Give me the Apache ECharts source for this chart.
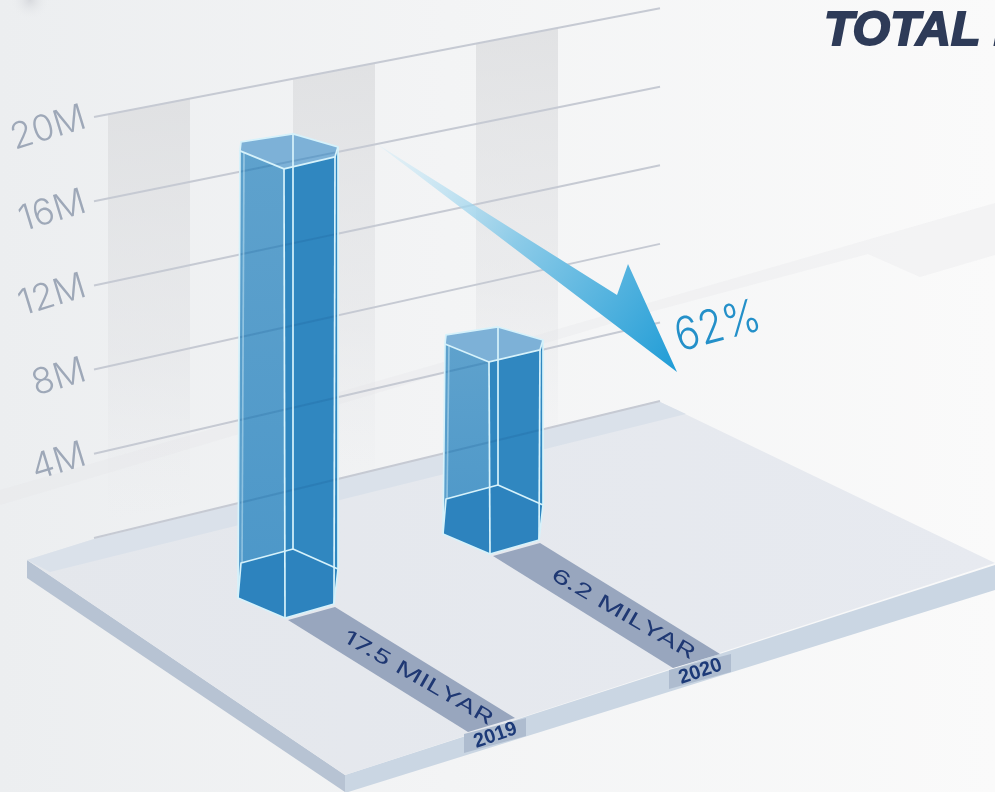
<!DOCTYPE html>
<html>
<head>
<meta charset="utf-8">
<style>html,body{margin:0;padding:0;overflow:hidden;background:#f5f6f7}#chart{width:995px;height:792px}</style>
<script src="https://cdn.jsdelivr.net/npm/echarts@6/dist/echarts.min.js"></script>
</head>
<body>
<div id="chart"></div>
<script>
// Yearly totals, in billions
const categories = ['2019', '2020'];
const totals = [17.5, 6.2];
const valueUnit = 'MILYAR';
// Wall scale
const wallTicks = [0, 4, 8, 12, 16, 20];
const changeLabel = '62%';
const titleText = 'TOTAL M';

const pts = (ox, oy, list) => list.map(p => [ox + p[0], oy + p[1]]);
const poly = (points, fill, extra) => ({type: 'polygon', shape: {points}, style: Object.assign({fill}, extra || {})});
const edge = (points, closed, opacity) => ({
  type: closed ? 'polygon' : 'polyline',
  shape: {points},
  style: {fill: 'none', stroke: '#d6f2fb', lineWidth: 1.7, lineJoin: 'round', opacity: opacity || 1}
});
const rad = d => d * Math.PI / 180;

// Wall lines converge slightly towards the rear corner of the floor
const wall = {left: 94, right: 660, zeroLeft: 538, stepLeft: 21.05, zeroRight: 401, stepRight: 19.64};
const wallY = (tick, x) => {
  const t = (x - wall.left) / (wall.right - wall.left);
  const l = wall.zeroLeft - tick * wall.stepLeft;
  const r = wall.zeroRight - tick * wall.stepRight;
  return l + (r - l) * t;
};

// Hexagon outlines, relative to the rear corner of each prism
const topHex = {tl: [-52, 8], b: [0, 0], r: [45, 13], fr: [42, 23], f: [-9, 35], l: [-53, 17]};
const baseHex = {l: [-52, 14], b: [0, 0], r: [45, 20], fr: [41, 55], f: [-8, 69], bl: [-55, 49]};
const floorSlope = -0.312;
const firstRearX = 293;

function renderPrism(params, api) {
  const i = api.value(0);
  const v = api.value(1);
  const x = api.coord([i, v])[0];
  const shift = (x - firstRearX) * floorSlope;
  const y0 = api.coord([i, -0.75])[1] + shift;
  const y1 = api.coord([i, v])[1] + shift;
  const T = {}, B = {};
  Object.keys(topHex).forEach(k => { T[k] = [x + topHex[k][0], y1 + topHex[k][1]]; });
  Object.keys(baseHex).forEach(k => { B[k] = [x + baseHex[k][0], y0 + baseHex[k][1]]; });
  const strip = pts(x, y0, [[-5, 71], [42, 58], [222, 169], [175, 183]]);
  const tag = pts(x, y0, [[171, 185], [233, 169], [233, 187], [171, 204]]);
  const textPos = [x + 125, y0 + 129];
  const yearPos = [x + 202.5, y0 + 186.5];
  // Wall lines seen through the glass
  const through = wallTicks
    .filter(t => wallY(t, x - 53) > y1 + 12)
    .map(t => ({
      type: 'line',
      shape: {x1: x - 53, y1: wallY(t, x - 53), x2: x + 45, y2: wallY(t, x + 45)},
      style: {stroke: 'rgba(24,84,140,0.18)', lineWidth: 2}
    }));
  return {
    type: 'group',
    children: [
      poly(strip, '#98a6be'),
      poly(tag, '#aebccf'),
      {type: 'text', x: textPos[0], y: textPos[1], rotation: rad(-30), scaleX: 1.5, scaleY: 0.95,
        style: {text: api.value(1) + ' ' + valueUnit, fill: '#1f3873', font: '400 20px Inter', align: 'center', verticalAlign: 'middle'}},
      {type: 'text', x: yearPos[0], y: yearPos[1], rotation: rad(19),
        style: {text: categories[i], fill: '#1c3a78', font: 'bold 20px "Liberation Sans Narrow", "Liberation Sans"', align: 'center', verticalAlign: 'middle'}},
      poly([T.l, T.tl, T.b, T.r, B.r, B.b, B.l], '#3f8fc4', {opacity: 0.86}),
      poly([T.l, T.f, B.f, B.bl], {
        type: 'linear', x: 0, y: 0, x2: 0, y2: 1,
        colorStops: [{offset: 0, color: '#5fa2cd'}, {offset: 1, color: '#4a96c8'}]
      }, {opacity: 0.92}),
      poly([T.f, T.fr, T.r, B.r, B.fr, B.f], '#2f86bf', {opacity: 0.96}),
      poly([T.tl, T.b, T.r, T.fr, T.f, T.l], '#7fb2d7', {opacity: 0.96}),
      poly([B.l, B.b, B.r, B.fr, B.f, B.bl], '#2d83be')
    ].concat(through, [
      edge([T.l, T.tl, T.b, T.r, T.fr, T.f], true),
      edge([T.l, B.bl, B.f, B.fr, B.r, T.r]),
      edge([T.f, B.f]),
      edge([T.b, B.b]),
      edge([T.fr, B.fr]),
      edge([[T.l[0] + 4, T.l[1] + 2], [B.l[0] + 1, B.l[1]]], false, 0.45),
      edge([B.bl, B.l, B.b, B.r])
    ])
  };
}

function renderWallLine(params, api) {
  const v = api.value(0);
  const left = api.coord([0, v]);
  const end = api.coord([1, v]);
  return {
    type: 'line',
    shape: {x1: left[0], y1: left[1], x2: end[0], y2: wallY(v, end[0])},
    style: {stroke: '#c6cad3', lineWidth: 2}
  };
}

const band = (x1, x2, y1, y2, bottom) => ({
  type: 'polygon', z: 1, silent: true,
  shape: {points: [[x1, y1], [x2, y2], [x2, bottom - 16], [x1, bottom]]},
  style: {fill: {type: 'linear', x: 0, y: 0, x2: 0, y2: 1, colorStops: [
    {offset: 0, color: 'rgba(218,219,221,0.72)'},
    {offset: 0.6, color: 'rgba(222,223,226,0.4)'},
    {offset: 1, color: 'rgba(230,231,234,0)'}
  ]}}
});

const backdrop = [
  // Soft smudge in the corner
  {type: 'rect', z: 0, silent: true, shape: {x: 0, y: 0, width: 120, height: 40},
    style: {fill: {type: 'radial', x: 0.25, y: 0, r: 0.5, colorStops: [
      {offset: 0, color: 'rgba(208,210,215,0.75)'}, {offset: 1, color: 'rgba(236,238,240,0)'}
    ]}}},
  // Faint wall reflection running across the page
  {type: 'polygon', z: 0, silent: true,
    shape: {points: [[0, 490], [995, 203], [995, 255], [920, 277], [868, 254], [650, 312], [0, 505]]},
    style: {fill: 'rgba(228,229,231,0.3)'}},
  band(108, 190, 114, 98, 520),
  band(293, 375, 79, 63, 500),
  band(476, 558, 44, 28, 470),
  // Floor slab
  {type: 'polygon', z: 2, silent: true, shape: {points: [[27, 560], [345, 775], [345, 792], [27, 578]]},
    style: {fill: '#b7c3d3'}},
  {type: 'polygon', z: 2, silent: true, shape: {points: [[345, 775], [995, 565], [995, 590], [345, 793]]},
    style: {fill: '#cad6e3'}},
  {type: 'polygon', z: 2, silent: true, shape: {points: [[27, 560], [94, 539], [658, 401], [995, 563], [345, 775]]},
    style: {fill: {type: 'linear', x: 0, y: 0, x2: 1, y2: 0, colorStops: [
      {offset: 0, color: '#e4e7ec'}, {offset: 1, color: '#e7eaf0'}
    ]}}},
  {type: 'polygon', z: 3, silent: true, shape: {points: [[27, 560], [94, 539], [658, 401], [686, 414], [50, 572]]},
    style: {fill: '#dae1ea'}},
  // Arrow from the first bar's top towards the second
  {type: 'polygon', z: 12, silent: true,
    shape: {points: [[377, 144], [617, 295], [628, 264], [677, 372]]},
    style: {fill: {type: 'linear', x: 0, y: 0, x2: 1, y2: 1, colorStops: [
      {offset: 0, color: 'rgba(208,236,248,0.35)'},
      {offset: 0.45, color: '#8ccbe8'},
      {offset: 1, color: '#1f9cd6'}
    ]}}},
  {type: 'text', z: 12, silent: true, x: 718, y: 327, rotation: rad(15), scaleX: 0.88,
    style: {text: changeLabel, fill: '#2490c9', font: '300 46px Inter', align: 'center', verticalAlign: 'middle'}},
  {type: 'text', z: 12, silent: true, x: 824, y: 31, scaleX: 0.985,
    style: {text: titleText, fill: '#2e3b58', stroke: '#2e3b58', lineWidth: 2,
      font: 'italic 900 49px "Liberation Sans"', align: 'left', verticalAlign: 'middle'}}
];

const chart = echarts.init(document.getElementById('chart'), null, {renderer: 'canvas'});
chart.setOption({
  animation: false,
  backgroundColor: {type: 'linear', x: 0, y: 0, x2: 1, y2: 0, colorStops: [
    {offset: 0, color: '#eceef0'}, {offset: 0.45, color: '#f3f4f5'}, {offset: 1, color: '#fafafa'}
  ]},
  graphic: {elements: backdrop},
  grid: [
    {left: wall.left, top: 117, width: wall.right - wall.left, height: 421, containLabel: false},
    {left: 190.5, top: 77, width: 410, height: 472, containLabel: false}
  ],
  xAxis: [
    {gridIndex: 0, type: 'value', min: 0, max: 1, show: false},
    {gridIndex: 1, type: 'category', data: categories, show: false}
  ],
  yAxis: [
    {gridIndex: 0, type: 'value', min: 0, max: 20, interval: 4,
      axisLine: {show: false}, axisTick: {show: false}, splitLine: {show: false},
      axisLabel: {
        formatter: v => (v ? v + 'M' : ''),
        margin: 9, rotate: 17, fontFamily: 'Inter', fontWeight: 300, fontSize: 36,
        color: '#9ea8b8', padding: [0, 0, 14, 0]
      }},
    // The prisms rest on a thin plinth, so their scale starts just below zero
    {gridIndex: 1, type: 'value', min: -0.75, max: 20, show: false}
  ],
  series: [
    {type: 'custom', name: 'wall', xAxisIndex: 0, yAxisIndex: 0, z: 4, silent: true,
      renderItem: renderWallLine, data: wallTicks.map(v => [v]), encode: {y: 0}},
    {type: 'custom', name: 'totals', xAxisIndex: 1, yAxisIndex: 1, z: 6, silent: true,
      renderItem: renderPrism, data: totals.map((v, i) => [i, v]), encode: {x: 0, y: 1}}
  ]
});
</script>
</body>
</html>
